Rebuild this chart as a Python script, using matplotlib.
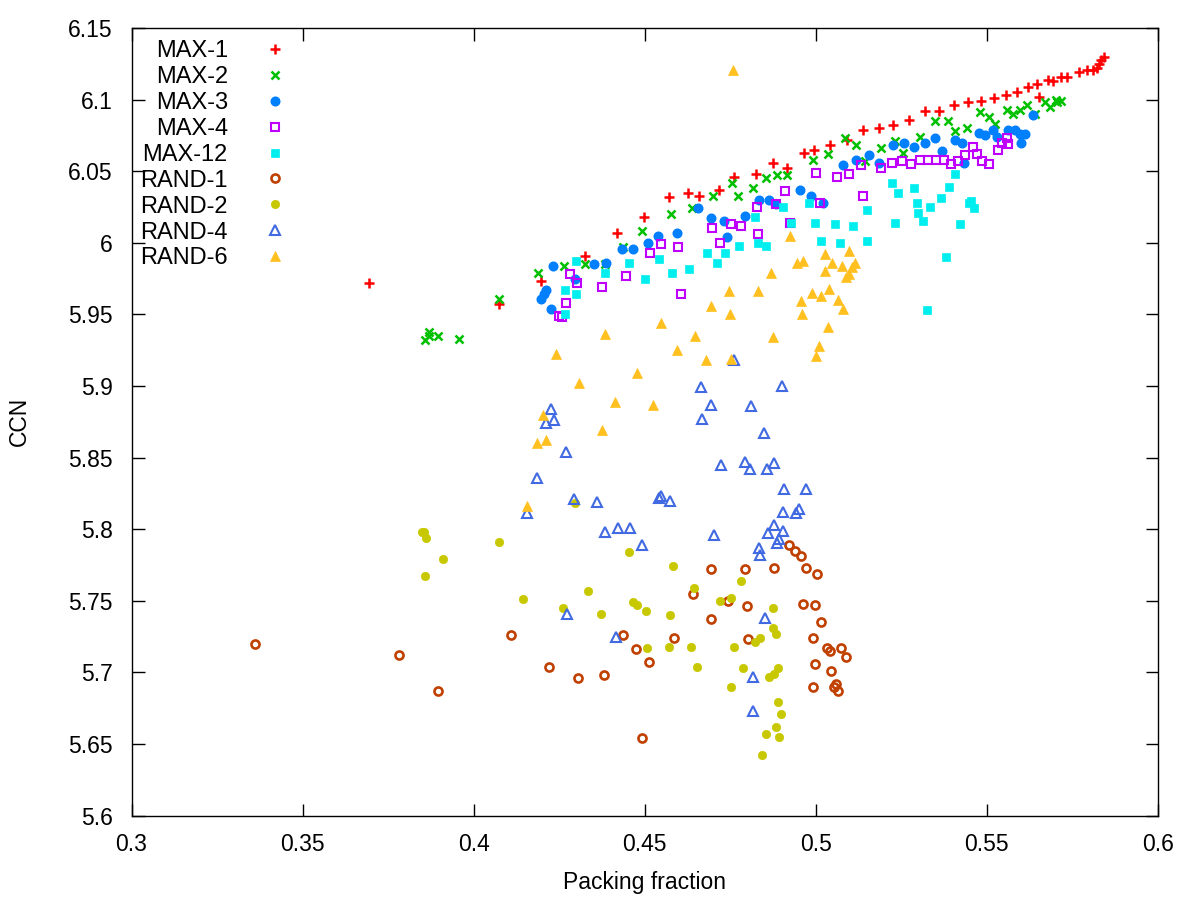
import matplotlib
matplotlib.use("Agg")
import matplotlib.pyplot as plt
from matplotlib.ticker import FuncFormatter

plt.rcParams['font.family'] = ['Liberation Sans', 'DejaVu Sans']

# ---------------- data (packing fraction, CCN) ----------------
MAX1 = [(0.3695,5.972),(0.4075,5.957),(0.4198,5.973),(0.4326,5.991),(0.442,6.007),(0.4499,6.018),
        (0.457,6.032),(0.4627,6.035),(0.466,6.033),(0.4718,6.037),(0.4762,6.046),(0.4826,6.048),
        (0.4876,6.056),(0.4916,6.052),(0.4966,6.063),(0.4995,6.065),(0.5042,6.068),(0.5092,6.072),
        (0.5138,6.079),(0.5185,6.080),(0.5226,6.082),(0.5273,6.086),(0.532,6.092),(0.536,6.092),
        (0.5404,6.096),(0.5445,6.098),(0.5483,6.099),(0.5521,6.101),(0.5556,6.103),(0.5588,6.105),
        (0.562,6.109),(0.5647,6.111),(0.5653,6.102),(0.5679,6.114),(0.5694,6.113),(0.5717,6.116),
        (0.5734,6.116),(0.577,6.119),(0.5793,6.121),(0.581,6.121),(0.5822,6.122),(0.5828,6.125),
        (0.5834,6.128),(0.5843,6.130)]
MAX2 = [(0.3859,5.932),(0.387,5.938),(0.3868,5.935),(0.3897,5.935),(0.3958,5.933),(0.4075,5.961),
        (0.4189,5.979),(0.4265,5.984),(0.4326,5.985),(0.4385,5.985),(0.4437,5.997),(0.4493,6.008),
        (0.4578,6.020),(0.4639,6.024),(0.470,6.033),(0.4756,6.042),(0.4773,6.033),(0.4817,6.038),
        (0.4855,6.045),(0.4887,6.047),(0.4916,6.047),(0.4992,6.058),(0.5036,6.062),(0.5086,6.073),
        (0.5118,6.068),(0.5144,6.057),(0.5191,6.066),(0.5232,6.071),(0.5255,6.063),(0.5305,6.074),
        (0.5349,6.085),(0.5387,6.085),(0.5407,6.078),(0.5442,6.080),(0.548,6.091),(0.5507,6.088),
        (0.5524,6.083),(0.5559,6.093),(0.5577,6.090),(0.5597,6.093),(0.5618,6.096),(0.5641,6.090),
        (0.567,6.098),(0.5685,6.095),(0.5702,6.100),(0.5717,6.099),(0.5705,6.098)]
MAX3 = [(0.4198,5.961),(0.4212,5.967),(0.4207,5.964),(0.4227,5.954),(0.4233,5.984),(0.4297,5.975),
        (0.4353,5.985),(0.4388,5.986),(0.4434,5.996),(0.4467,5.996),(0.451,6.000),(0.454,6.005),
        (0.4595,6.007),(0.4656,6.024),(0.4694,6.017),(0.4732,6.015),(0.4741,6.004),(0.4794,6.019),
        (0.4835,6.030),(0.4864,6.030),(0.4884,6.027),(0.4954,6.037),(0.4987,6.033),(0.5022,6.028),
        (0.508,6.054),(0.5118,6.058),(0.5156,6.061),(0.5185,6.056),(0.5226,6.068),(0.5258,6.070),
        (0.5287,6.067),(0.532,6.070),(0.5349,6.073),(0.5369,6.064),(0.5407,6.072),(0.5428,6.070),
        (0.5434,6.056),(0.5477,6.077),(0.5495,6.075),(0.5518,6.079),(0.553,6.074),(0.5562,6.079),
        (0.5583,6.079),(0.5597,6.076),(0.5612,6.076),(0.56,6.070),(0.5635,6.089)]
MAX4 = [(0.4259,5.948),(0.425,5.949),(0.4271,5.958),(0.4283,5.978),(0.4303,5.972),(0.4376,5.969),
        (0.4446,5.977),(0.4516,5.993),(0.4548,5.999),(0.4598,5.997),(0.4607,5.964),(0.4697,6.010),
        (0.4721,6.000),(0.4753,6.013),(0.4782,6.012),(0.4832,6.006),(0.4829,6.025),(0.4884,6.027),
        (0.4911,6.036),(0.4925,6.014),(0.5001,6.049),(0.5013,6.028),(0.5063,6.046),(0.5098,6.048),
        (0.5133,6.054),(0.5138,6.033),(0.5191,6.052),(0.5223,6.056),(0.5252,6.057),(0.5279,6.055),
        (0.5305,6.058),(0.5328,6.058),(0.5352,6.058),(0.5375,6.058),(0.5396,6.055),(0.5416,6.057),
        (0.5436,6.061),(0.546,6.067),(0.5472,6.062),(0.5486,6.057),(0.5507,6.055),(0.5533,6.065),
        (0.5545,6.070),(0.5559,6.073),(0.5562,6.069)]
MAX12 = [(0.4268,5.967),(0.4268,5.950),(0.430,5.964),(0.430,5.987),(0.4385,5.979),(0.4455,5.986),
         (0.4502,5.975),(0.4542,5.989),(0.458,5.979),(0.463,5.982),(0.4683,5.993),(0.4712,5.986),
         (0.4735,5.993),(0.4776,5.998),(0.4823,6.018),(0.4832,6.000),(0.4855,5.998),(0.4905,6.025),
         (0.4928,6.014),(0.4981,6.028),(0.4998,6.014),(0.5016,6.001),(0.5057,6.013),(0.5071,6.000),
         (0.5109,6.012),(0.515,6.023),(0.515,6.001),(0.5223,6.042),(0.5241,6.035),(0.5232,6.014),
         (0.5287,6.038),(0.5296,6.028),(0.5299,6.021),(0.5314,6.015),(0.5334,6.025),(0.5325,5.953),
         (0.5366,6.031),(0.539,6.039),(0.5381,5.990),(0.5407,6.048),(0.5422,6.013),(0.5448,6.028),
         (0.5454,6.029),(0.5463,6.024)]
RAND1 = [(0.3362,5.720),(0.3783,5.712),(0.3897,5.687),(0.411,5.726),(0.4221,5.704),(0.4306,5.696),
         (0.4382,5.698),(0.4437,5.726),(0.4475,5.716),(0.4513,5.707),(0.4586,5.724),(0.4493,5.654),
         (0.4694,5.772),(0.4794,5.772),(0.4878,5.773),(0.4922,5.789),(0.494,5.785),(0.4957,5.781),
         (0.4972,5.773),(0.5004,5.769),(0.4642,5.755),(0.4744,5.750),(0.48,5.746),(0.4963,5.748),
         (0.4998,5.747),(0.4694,5.737),(0.5016,5.735),(0.4803,5.723),(0.4992,5.724),(0.5033,5.717),
         (0.5042,5.715),(0.5074,5.717),(0.5089,5.711),(0.4998,5.706),(0.5045,5.701),(0.4992,5.690),
         (0.506,5.692),(0.5054,5.690),(0.5066,5.687)]
RAND2 = [(0.385,5.798),(0.3856,5.798),(0.3862,5.794),(0.4075,5.791),(0.3911,5.779),(0.3859,5.767),
         (0.4145,5.751),(0.4262,5.745),(0.4297,5.818),(0.4335,5.757),(0.4455,5.784),(0.4583,5.774),
         (0.4373,5.741),(0.4467,5.749),(0.4478,5.747),(0.4505,5.743),(0.4575,5.740),(0.4508,5.717),
         (0.4572,5.718),(0.4645,5.759),(0.4782,5.764),(0.4721,5.750),(0.4753,5.752),(0.4876,5.745),
         (0.4876,5.731),(0.4884,5.727),(0.4838,5.724),(0.4823,5.721),(0.4636,5.718),(0.4762,5.718),
         (0.4654,5.704),(0.4788,5.703),(0.489,5.703),(0.4864,5.697),(0.4878,5.699),(0.4753,5.690),
         (0.489,5.679),(0.4899,5.671),(0.4884,5.662),(0.4855,5.657),(0.4893,5.655),(0.4843,5.642)]
RAND4 = [(0.4227,5.884),(0.4212,5.874),(0.4236,5.876),(0.4271,5.854),(0.4186,5.836),(0.4294,5.821),
         (0.4361,5.819),(0.4157,5.811),(0.4385,5.798),(0.4423,5.801),(0.4458,5.801),(0.4542,5.822),
         (0.4493,5.789),(0.4274,5.741),(0.4417,5.725),(0.476,5.918),(0.4665,5.899),(0.4902,5.900),
         (0.4694,5.887),(0.4811,5.886),(0.4668,5.877),(0.4849,5.867),(0.4724,5.845),(0.4794,5.847),
         (0.4808,5.842),(0.4858,5.842),(0.4878,5.846),(0.4908,5.828),(0.4972,5.828),(0.4548,5.823),
         (0.4575,5.820),(0.4905,5.812),(0.4951,5.814),(0.4943,5.811),(0.4878,5.803),(0.4905,5.799),
         (0.4861,5.797),(0.4703,5.796),(0.4893,5.793),(0.4887,5.790),(0.4835,5.787),(0.4838,5.782),
         (0.4852,5.738),(0.4817,5.697),(0.4817,5.673)]
RAND6 = [(0.4759,6.121),(0.4925,6.005),(0.5027,5.992),(0.5098,5.994),(0.4946,5.986),(0.4963,5.987),
         (0.5048,5.986),(0.5077,5.984),(0.5115,5.986),(0.5106,5.983),(0.5027,5.980),(0.5098,5.978),
         (0.5089,5.976),(0.487,5.979),(0.5039,5.968),(0.499,5.965),(0.5016,5.963),(0.4832,5.966),
         (0.4747,5.966),(0.4957,5.959),(0.5065,5.960),(0.508,5.954),(0.4694,5.956),(0.475,5.950),
         (0.496,5.950),(0.4548,5.944),(0.5036,5.941),(0.4648,5.935),(0.4876,5.934),(0.501,5.928),
         (0.4595,5.925),(0.5001,5.921),(0.468,5.918),(0.4753,5.919),(0.4525,5.887),(0.4385,5.936),
         (0.4242,5.922),(0.4478,5.909),(0.4309,5.902),(0.4414,5.889),(0.4204,5.880),(0.4376,5.869),
         (0.4212,5.862),(0.4186,5.860),(0.4157,5.816)]

labels = ["MAX-1", "MAX-2", "MAX-3", "MAX-4", "MAX-12", "RAND-1", "RAND-2", "RAND-4", "RAND-6"]
series = [MAX1, MAX2, MAX3, MAX4, MAX12, RAND1, RAND2, RAND4, RAND6]
colors = ["#ff0000", "#00c000", "#0080ff", "#c000ff", "#00eeee", "#c04000", "#c8c800", "#4169e1", "#ffc020"]

x_ticks = [0.3, 0.35, 0.4, 0.45, 0.5, 0.55, 0.6]
y_ticks = [5.6, 5.65, 5.7, 5.75, 5.8, 5.85, 5.9, 5.95, 6.0, 6.05, 6.1, 6.15]

# ---------------- styles ----------------
styles = [
    dict(marker='+', ms=6.5, mew=1.8, fill=False),
    dict(marker='x', ms=5.5, mew=1.8, fill=False),
    dict(marker=(8, 2, 0), ms=6.8, mew=2.3, fill=False),
    dict(marker='s', ms=5.5, mew=1.5, fill=False),
    dict(marker='s', ms=6, mew=0.5, fill=True),
    dict(marker='o', ms=5.8, mew=1.9, fill=False),
    dict(marker='o', ms=6, mew=0.5, fill=True),
    dict(marker='^', ms=7, mew=1.5, fill=False),
    dict(marker='^', ms=7, mew=0.5, fill=True),
]

fig = plt.figure(figsize=(12, 9), dpi=100)
ax = fig.add_axes([131.5/1200, 1 - 815.5/900, (1158-131.5)/1200, (815.5-28)/900])

for pts, lab, col, st in zip(series, labels, colors, styles):
    xs = [p[0] for p in pts]
    ys = [p[1] for p in pts]
    ax.plot(xs, ys, linestyle='none', marker=st['marker'], markersize=st['ms'],
            markeredgewidth=st['mew'], markeredgecolor=col,
            markerfacecolor=col if st['fill'] else 'none',
            color=col, label=lab)

ax.set_xlim(0.3, 0.6)
ax.set_ylim(5.6, 6.15)
ax.set_xticks(x_ticks)
ax.set_yticks(y_ticks)
fmt = FuncFormatter(lambda v, p: ('%g' % round(v, 4)))
ax.xaxis.set_major_formatter(fmt)
ax.yaxis.set_major_formatter(fmt)
ax.tick_params(direction='in', length=9, width=1, top=True, right=True,
               labelsize=16.5, colors='black')
ax.tick_params(axis='x', pad=12.5)
ax.tick_params(axis='y', pad=13.5)
for s in ax.spines.values():
    s.set_linewidth(1.0)

ax.set_xlabel("Packing fraction", fontsize=16.5)
ax.set_ylabel("CCN", fontsize=16.5)
ax.xaxis.set_label_coords(0.5, (815.5 - 871) / 787.5)
ax.yaxis.set_label_coords((31 - 131.5) / 1026.5, 0.5)

leg = ax.legend(loc='upper left', bbox_to_anchor=(-0.0035, 1.0), frameon=False, markerfirst=False,
                fontsize=17, handlelength=1.2, handletextpad=1.4, labelspacing=0.165,
                borderaxespad=0.0, borderpad=0.52, numpoints=1)

fig.savefig("out.png", dpi=100)
